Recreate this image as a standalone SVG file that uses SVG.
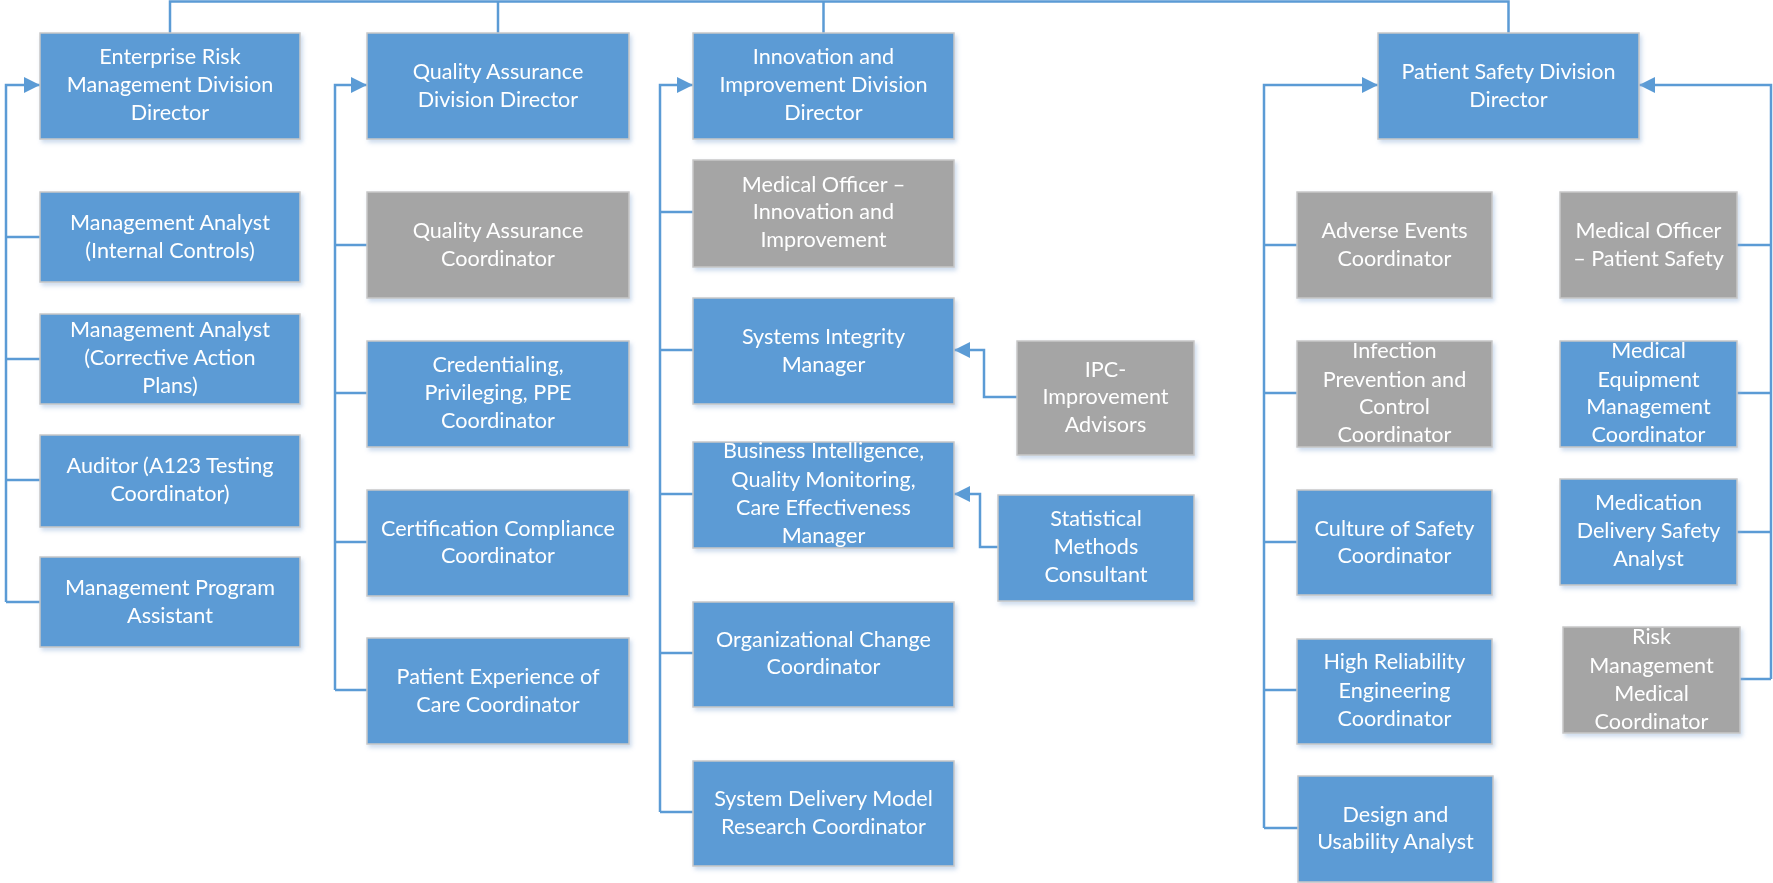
<svg xmlns="http://www.w3.org/2000/svg" width="1773" height="883" viewBox="0 0 1773 883">
<style>
.b{fill:#5B9BD5;stroke:#C8C8C8;stroke-width:1.5}
.g{fill:#A5A5A5;stroke:#C8C8C8;stroke-width:1.5}
.t{font-family:Lato,"Liberation Sans",sans-serif;font-size:21.6px;fill:#FFFFFF;text-anchor:middle}
.c{fill:none;stroke:#5B9BD5;stroke-width:2.5}
</style>
<defs>
<filter id="sh" x="-10%" y="-10%" width="125%" height="130%">
<feDropShadow dx="2" dy="3" stdDeviation="2" flood-color="#8FB0D8" flood-opacity="0.45"/>
</filter>
<marker id="ar" markerUnits="userSpaceOnUse" markerWidth="16" markerHeight="16" refX="16" refY="8" orient="auto">
<path d="M0,0 L16,8 L0,16 Z" fill="#5B9BD5"/>
</marker>
</defs>
<rect width="1773" height="883" fill="#FFFFFF"/>
<g id="connectors">
<path class="c" d="M170,33 V1.5 H1508.5 V33"/>
<path class="c" d="M498,1.5 V33"/>
<path class="c" d="M823.5,1.5 V33"/>
<path class="c" d="M6,602 V85 H40" marker-end="url(#ar)"/>
<path class="c" d="M40,237 H6 M40,359 H6 M40,480 H6 M40,602 H6"/>
<path class="c" d="M335,690 V85 H367" marker-end="url(#ar)"/>
<path class="c" d="M367,245 H335 M367,393 H335 M367,542 H335 M367,690 H335"/>
<path class="c" d="M660,812 V85 H693" marker-end="url(#ar)"/>
<path class="c" d="M693,212 H660 M693,350 H660 M693,494 H660 M693,653 H660 M693,812 H660"/>
<path class="c" d="M1017,397 H984 V350 H954" marker-end="url(#ar)"/>
<path class="c" d="M998,547 H980 V494 H954" marker-end="url(#ar)"/>
<path class="c" d="M1264,828 V85 H1378" marker-end="url(#ar)"/>
<path class="c" d="M1297,245 H1264 M1297,393 H1264 M1297,542 H1264 M1297,690 H1264 M1298,828 H1264"/>
<path class="c" d="M1771,679 V85 H1639" marker-end="url(#ar)"/>
<path class="c" d="M1737,245 H1771 M1737,393 H1771 M1737,532 H1771 M1740,679 H1771"/>
</g>
<g id="erm-director" filter="url(#sh)"><rect class="b" x="40" y="33" width="260" height="106"/>
<text class="t"><tspan x="170" y="64">Enterprise Risk</tspan><tspan x="170" y="92">Management Division</tspan><tspan x="170" y="120">Director</tspan></text></g>
<g id="ma-internal" filter="url(#sh)"><rect class="b" x="40" y="192" width="260" height="90"/>
<text class="t"><tspan x="170" y="230">Management Analyst</tspan><tspan x="170" y="258">(Internal Controls)</tspan></text></g>
<g id="ma-cap" filter="url(#sh)"><rect class="b" x="40" y="314" width="260" height="90"/>
<text class="t"><tspan x="170" y="337">Management Analyst</tspan><tspan x="170" y="365">(Corrective Action</tspan><tspan x="170" y="393">Plans)</tspan></text></g>
<g id="auditor" filter="url(#sh)"><rect class="b" x="40" y="435" width="260" height="92"/>
<text class="t"><tspan x="170" y="473">Auditor (A123 Testing</tspan><tspan x="170" y="501">Coordinator)</tspan></text></g>
<g id="mpa" filter="url(#sh)"><rect class="b" x="40" y="557" width="260" height="90"/>
<text class="t"><tspan x="170" y="595">Management Program</tspan><tspan x="170" y="623">Assistant</tspan></text></g>

<g id="qa-director" filter="url(#sh)"><rect class="b" x="367" y="33" width="262" height="106"/>
<text class="t"><tspan x="498" y="79">Quality Assurance</tspan><tspan x="498" y="107">Division Director</tspan></text></g>
<g id="qa-coord" filter="url(#sh)"><rect class="g" x="367" y="192" width="262" height="106"/>
<text class="t"><tspan x="498" y="238">Quality Assurance</tspan><tspan x="498" y="266">Coordinator</tspan></text></g>
<g id="cred" filter="url(#sh)"><rect class="b" x="367" y="341" width="262" height="106"/>
<text class="t"><tspan x="498" y="372">Credentialing,</tspan><tspan x="498" y="400">Privileging, PPE</tspan><tspan x="498" y="428">Coordinator</tspan></text></g>
<g id="cert" filter="url(#sh)"><rect class="b" x="367" y="490" width="262" height="106"/>
<text class="t"><tspan x="498" y="536">Certification Compliance</tspan><tspan x="498" y="563">Coordinator</tspan></text></g>
<g id="pe" filter="url(#sh)"><rect class="b" x="367" y="638" width="262" height="106"/>
<text class="t"><tspan x="498" y="684">Patient Experience of</tspan><tspan x="498" y="712">Care Coordinator</tspan></text></g>

<g id="ii-director" filter="url(#sh)"><rect class="b" x="693" y="33" width="261" height="106"/>
<text class="t"><tspan x="823.5" y="64">Innovation and</tspan><tspan x="823.5" y="92">Improvement Division</tspan><tspan x="823.5" y="120">Director</tspan></text></g>
<g id="mo-ii" filter="url(#sh)"><rect class="g" x="693" y="160" width="261" height="107"/>
<text class="t"><tspan x="823.5" y="192">Medical Officer –</tspan><tspan x="823.5" y="219">Innovation and</tspan><tspan x="823.5" y="247">Improvement</tspan></text></g>
<g id="sim" filter="url(#sh)"><rect class="b" x="693" y="298" width="261" height="106"/>
<text class="t"><tspan x="823.5" y="344">Systems Integrity</tspan><tspan x="823.5" y="372">Manager</tspan></text></g>
<g id="bi" filter="url(#sh)"><rect class="b" x="693" y="442" width="261" height="106"/>
<text class="t"><tspan x="823.5" y="458">Business Intelligence,</tspan><tspan x="823.5" y="487">Quality Monitoring,</tspan><tspan x="823.5" y="515">Care Effectiveness</tspan><tspan x="823.5" y="543">Manager</tspan></text></g>
<g id="oc" filter="url(#sh)"><rect class="b" x="693" y="602" width="261" height="105"/>
<text class="t"><tspan x="823.5" y="647">Organizational Change</tspan><tspan x="823.5" y="674">Coordinator</tspan></text></g>
<g id="sdm" filter="url(#sh)"><rect class="b" x="693" y="761" width="261" height="105"/>
<text class="t"><tspan x="823.5" y="806">System Delivery Model</tspan><tspan x="823.5" y="834">Research Coordinator</tspan></text></g>
<g id="ipc" filter="url(#sh)"><rect class="g" x="1017" y="341" width="177" height="114"/>
<text class="t"><tspan x="1105.5" y="377">IPC-</tspan><tspan x="1105.5" y="404">Improvement</tspan><tspan x="1105.5" y="432">Advisors</tspan></text></g>
<g id="stat" filter="url(#sh)"><rect class="b" x="998" y="495" width="196" height="106"/>
<text class="t"><tspan x="1096" y="526">Statistical</tspan><tspan x="1096" y="554">Methods</tspan><tspan x="1096" y="582">Consultant</tspan></text></g>

<g id="ps-director" filter="url(#sh)"><rect class="b" x="1378" y="33" width="261" height="106"/>
<text class="t"><tspan x="1508.5" y="79">Patient Safety Division</tspan><tspan x="1508.5" y="107">Director</tspan></text></g>
<g id="ae" filter="url(#sh)"><rect class="g" x="1297" y="192" width="195" height="106"/>
<text class="t"><tspan x="1394.5" y="238">Adverse Events</tspan><tspan x="1394.5" y="266">Coordinator</tspan></text></g>
<g id="mo-ps" filter="url(#sh)"><rect class="g" x="1560" y="192" width="177" height="106"/>
<text class="t"><tspan x="1648.5" y="238">Medical Officer</tspan><tspan x="1648.5" y="266">– Patient Safety</tspan></text></g>
<g id="ip" filter="url(#sh)"><rect class="g" x="1297" y="341" width="195" height="106"/>
<text class="t"><tspan x="1394.5" y="358">Infection</tspan><tspan x="1394.5" y="387">Prevention and</tspan><tspan x="1394.5" y="414">Control</tspan><tspan x="1394.5" y="442">Coordinator</tspan></text></g>
<g id="mem" filter="url(#sh)"><rect class="b" x="1560" y="341" width="177" height="106"/>
<text class="t"><tspan x="1648.5" y="358">Medical</tspan><tspan x="1648.5" y="387">Equipment</tspan><tspan x="1648.5" y="414">Management</tspan><tspan x="1648.5" y="442">Coordinator</tspan></text></g>
<g id="cos" filter="url(#sh)"><rect class="b" x="1297" y="490" width="195" height="105"/>
<text class="t"><tspan x="1394.5" y="536">Culture of Safety</tspan><tspan x="1394.5" y="563">Coordinator</tspan></text></g>
<g id="mdsa" filter="url(#sh)"><rect class="b" x="1560" y="479" width="177" height="106"/>
<text class="t"><tspan x="1648.5" y="510">Medication</tspan><tspan x="1648.5" y="538">Delivery Safety</tspan><tspan x="1648.5" y="566">Analyst</tspan></text></g>
<g id="hr" filter="url(#sh)"><rect class="b" x="1297" y="639" width="195" height="105"/>
<text class="t"><tspan x="1394.5" y="669">High Reliability</tspan><tspan x="1394.5" y="698">Engineering</tspan><tspan x="1394.5" y="726">Coordinator</tspan></text></g>
<g id="rmmc" filter="url(#sh)"><rect class="g" x="1563" y="627" width="177" height="106"/>
<text class="t"><tspan x="1651.5" y="644">Risk</tspan><tspan x="1651.5" y="673">Management</tspan><tspan x="1651.5" y="701">Medical</tspan><tspan x="1651.5" y="729">Coordinator</tspan></text></g>
<g id="du" filter="url(#sh)"><rect class="b" x="1298" y="776" width="195" height="106"/>
<text class="t"><tspan x="1395.5" y="822">Design and</tspan><tspan x="1395.5" y="849">Usability Analyst</tspan></text></g>
</svg>
